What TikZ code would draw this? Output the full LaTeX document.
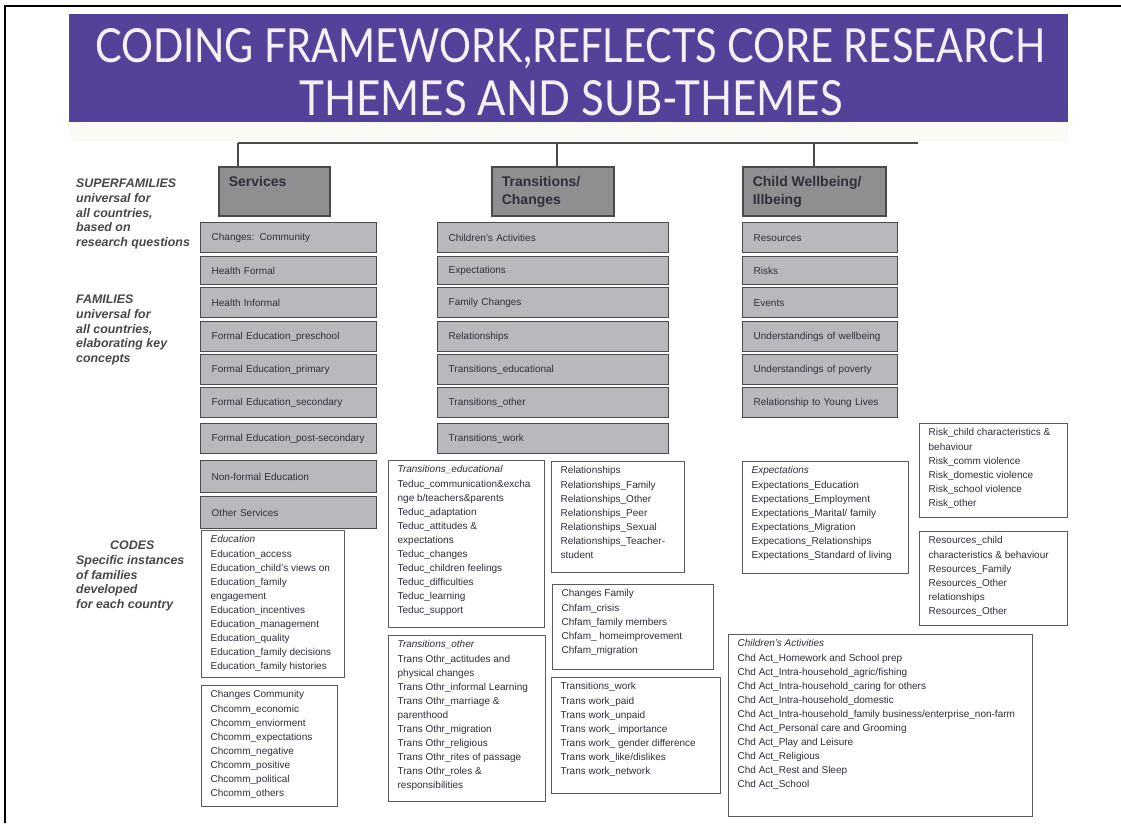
\documentclass[tikz,border=0pt]{standalone}
\usepackage{fontspec}
\setmainfont{Liberation Sans}
\newfontfamily\titlefont{Lato}
\usepackage{graphicx}
\usetikzlibrary{positioning,calc}
\definecolor{bannerpurple}{HTML}{54419A}
\definecolor{bandcream}{HTML}{FBFAF5}
\definecolor{supfill}{HTML}{8F8F92}
\definecolor{famfill}{HTML}{B9B9BD}
\definecolor{boxline}{HTML}{4A4A4A}
\definecolor{codeline}{HTML}{5A5A5A}
\definecolor{inktext}{HTML}{2F2F3A}
\definecolor{labelgrey}{HTML}{474747}
\definecolor{titlewhite}{HTML}{F6F0F2}
\newcommand{\boxlines}[3]{\parbox[t][#1][t]{#2}{\raggedright #3}}

\begin{document}
\begin{tikzpicture}[x=1pt, y=-1pt,
    supfam/.style={draw=boxline, fill=supfill, line width=1.6pt, anchor=north west,
        inner xsep=10pt, inner ysep=10pt, text=inktext,
        font=\bfseries\fontsize{14}{17.5}\selectfont},
    fam/.style={draw=boxline, fill=famfill, line width=1.4pt, anchor=north west,
        inner xsep=11pt, inner ysep=0pt, minimum height=30pt, text width=#1,
        align=left, text=inktext, font=\fontsize{10}{12}\selectfont},
    codebox/.style={draw=codeline, fill=white, line width=1.3pt, anchor=north west,
        inner xsep=9pt, inner ysep=5pt, text=inktext,
        font=\fontsize{10}{14.1}\selectfont},
    sidelabel/.style={anchor=north west, inner sep=0pt, align=left, text=labelgrey,
        font=\bfseries\itshape\fontsize{12.4}{14.7}\selectfont},
    bar/.style={draw=boxline, line width=2pt}]
    \useasboundingbox (0,0) rectangle (1121,823);

    % frame and banner
    \draw[black, line width=2.5pt] (4,6) -- (1121,6);
    \draw[black, line width=2.5pt] (5,5) -- (5,823);
    \fill[bannerpurple] (69,14) rectangle (1068,122);
    \fill[bandcream] (69,122) rectangle (1068,141);
    \node[anchor=base, inner sep=0pt, text=titlewhite, font=\titlefont\fontsize{46}{46}\selectfont] (title1) at (570,62)
        {\resizebox{950pt}{34pt}{CODING FRAMEWORK,REFLECTS CORE RESEARCH}};
    \node[anchor=base, inner sep=0pt, text=titlewhite, font=\titlefont\fontsize{46}{46}\selectfont] (title2) at (571,115)
        {\resizebox{543pt}{35pt}{THEMES AND SUB-THEMES}};

    % side labels
    \node[sidelabel] (lblsup) at (76,179) {SUPERFAMILIES\\universal for\\all countries,\\based on\\research questions};
    \node[sidelabel] (lblfam) at (76,295) {FAMILIES\\universal for\\all countries,\\elaborating key\\concepts};
    \node[sidelabel] (lblcode) at (76,541) {\hspace*{34pt}CODES\\Specific instances\\of families\\developed\\for each country};

    % superfamilies
    \node[supfam] (sv) at (218,166) {\boxlines{29pt}{91pt}{Services}};
    \node[supfam] (tc) at (491,166) {\boxlines{29pt}{102pt}{Transitions/\\Changes}};
    \node[supfam] (cw) at (742,166) {\boxlines{29pt}{123pt}{Child Wellbeing/\\Illbeing}};

    \coordinate (barL) at (238,143);
    \coordinate (barT) at (557,143);
    \coordinate (barC) at (814,143);
    \coordinate (barR) at (918,143);
    \draw[bar] (barL) -- (barR);
    \draw[bar] (barL) -- (barL |- sv.north);
    \draw[bar] (barT) -- (barT |- tc.north);
    \draw[bar] (barC) -- (barC |- cw.north);

    % families: services
    \node[fam=154pt] (svcom) at (200,222) {Changes: Community};
    \node[fam=154pt, minimum height=28pt] (svhf) at (200,256) {Health Formal};
    \node[fam=154pt] (svhi) at (200,287) {Health Informal};
    \node[fam=154pt] (svpre) at (200,321) {Formal Education\_preschool};
    \node[fam=154pt] (svpri) at (200,354) {Formal Education\_primary};
    \node[fam=154pt] (svsec) at (200,387) {Formal Education\_secondary};
    \node[fam=154pt] (svpost) at (200,423) {Formal Education\_post-secondary};
    \node[fam=154pt, minimum height=32pt] (svnf) at (200,460) {Non-formal Education};
    \node[fam=154pt, minimum height=32pt] (svoth) at (200,496) {Other Services};

    % families: transitions
    \node[fam=209pt] (tcact) at (437,222) {Children's Activities};
    \node[fam=209pt, minimum height=28pt] (tcexp) at (437,256) {Expectations};
    \node[fam=209pt] (tcfam) at (437,287) {Family Changes};
    \node[fam=209pt] (tcrel) at (437,321) {Relationships};
    \node[fam=209pt] (tcedu) at (437,354) {Transitions\_educational};
    \node[fam=209pt] (tcoth) at (437,387) {Transitions\_other};
    \node[fam=209pt] (tcwork) at (437,423) {Transitions\_work};

    % families: child wellbeing
    \node[fam=133pt] (cwres) at (742,222) {Resources};
    \node[fam=133pt, minimum height=28pt] (cwrisk) at (742,256) {Risks};
    \node[fam=133pt] (cwev) at (742,287) {Events};
    \node[fam=133pt] (cwwell) at (742,321) {Understandings of wellbeing};
    \node[fam=133pt] (cwpov) at (742,354) {Understandings of poverty};
    \node[fam=133pt] (cwyl) at (742,387) {Relationship to Young Lives};

    % codes
    \node[codebox] (cedu) at (201,530) {\boxlines{137pt}{125pt}{\textit{Education}\\Education\_access\\Education\_child's views on\\Education\_family\\engagement\\Education\_incentives\\Education\_management\\Education\_quality\\Education\_family decisions\\Education\_family histories}};
    \node[codebox] (ccom) at (201,685) {\boxlines{111pt}{118pt}{Changes Community\\Chcomm\_economic\\Chcomm\_enviorment\\Chcomm\_expectations\\Chcomm\_negative\\Chcomm\_positive\\Chcomm\_political\\Chcomm\_others}};
    \node[codebox] (cteduc) at (388,460) {\boxlines{157pt}{138pt}{\textit{Transitions\_educational}\\Teduc\_communication\&excha\\nge b/teachers\&parents\\Teduc\_adaptation\\Teduc\_attitudes \&\\expectations\\Teduc\_changes\\Teduc\_children feelings\\Teduc\_difficulties\\Teduc\_learning\\Teduc\_support}};
    \node[codebox] (crel) at (551,461) {\boxlines{101pt}{115pt}{Relationships\\Relationships\_Family\\Relationships\_Other\\Relationships\_Peer\\Relationships\_Sexual\\Relationships\_Teacher-\\student}};
    \node[codebox] (cfam) at (552,584) {\boxlines{75pt}{143pt}{Changes Family\\Chfam\_crisis\\Chfam\_family members\\Chfam\_ homeimprovement\\Chfam\_migration}};
    \node[codebox] (cothr) at (388,635) {\boxlines{156pt}{139pt}{\textit{Transitions\_other}\\Trans Othr\_actitudes and\\physical changes\\Trans Othr\_informal Learning\\Trans Othr\_marriage \&\\parenthood\\Trans Othr\_migration\\Trans Othr\_religious\\Trans Othr\_rites of passage\\Trans Othr\_roles \&\\responsibilities}};
    \node[codebox] (cwork) at (551,677) {\boxlines{106pt}{151pt}{Transitions\_work\\Trans work\_paid\\Trans work\_unpaid\\Trans work\_ importance\\Trans work\_ gender difference\\Trans work\_like/dislikes\\Trans work\_network}};
    \node[codebox] (cexp) at (742,461) {\boxlines{102pt}{148pt}{\textit{Expectations}\\Expectations\_Education\\Expectations\_Employment\\Expectations\_Marital/ family\\Expectations\_Migration\\Expecations\_Relationships\\Expectations\_Standard of living}};
    \node[codebox] (crisk) at (919,423) {\boxlines{84pt}{130pt}{Risk\_child characteristics \&\\behaviour\\Risk\_comm violence\\Risk\_domestic violence\\Risk\_school violence\\Risk\_other}};
    \node[codebox] (cres) at (919,531) {\boxlines{84pt}{130pt}{Resources\_child\\characteristics \& behaviour\\Resources\_Family\\Resources\_Other\\relationships\\Resources\_Other}};
    \node[codebox] (cact) at (728,634) {\boxlines{172pt}{286pt}{\textit{Children's Activities}\\Chd Act\_Homework and School prep\\Chd Act\_Intra-household\_agric/fishing\\Chd Act\_Intra-household\_caring for others\\Chd Act\_Intra-household\_domestic\\Chd Act\_Intra-household\_family business/enterprise\_non-farm\\Chd Act\_Personal care and Grooming\\Chd Act\_Play and Leisure\\Chd Act\_Religious\\Chd Act\_Rest and Sleep\\Chd Act\_School}};
\end{tikzpicture}
\end{document}
